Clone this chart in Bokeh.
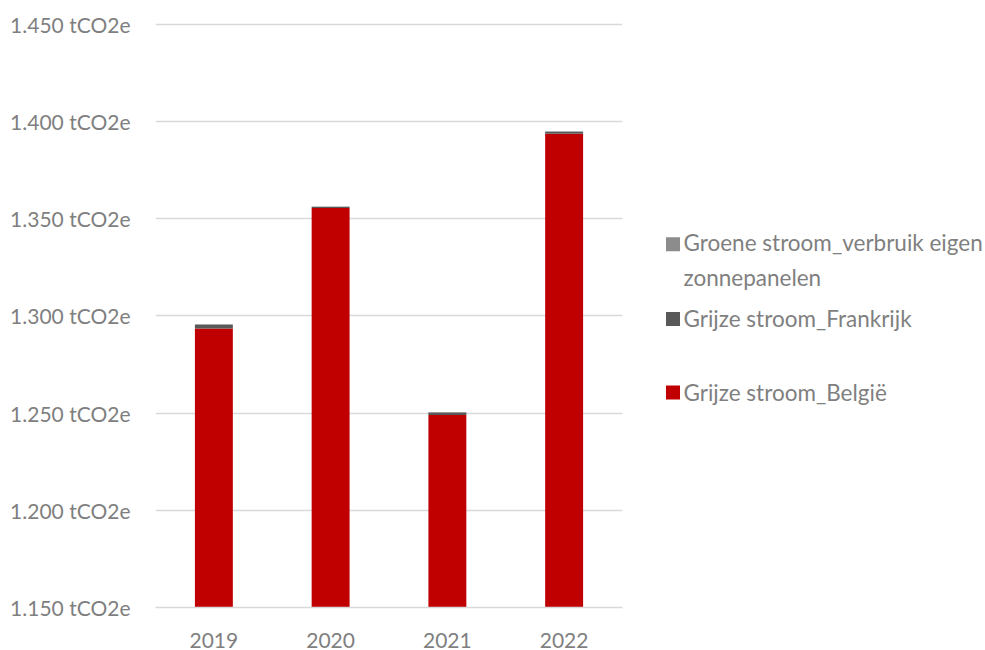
from bokeh.plotting import figure
from bokeh.models import FactorRange, Range1d, FixedTicker, ColumnDataSource
from bokeh.layouts import row
from bokeh.core.properties import value
from bokeh.embed import file_html
from bokeh.resources import INLINE

years = ["2019", "2020", "2021", "2022"]
belgie = [1293.5, 1355.5, 1249.0, 1393.8]
frankrijk = [1.8, 0.6, 1.3, 1.0]
groene = [0.4, 0.2, 0.3, 0.3]
series = ["Grijze stroom_België", "Grijze stroom_Frankrijk", "Groene stroom_verbruik eigen\nzonnepanelen"]
colors = ["#c00000", "#595959", "#8c8c8c"]
tick_values = [1150, 1200, 1250, 1300, 1350, 1400, 1450]
tick_labels = ["1.150 tCO2e", "1.200 tCO2e", "1.250 tCO2e", "1.300 tCO2e", "1.350 tCO2e", "1.400 tCO2e", "1.450 tCO2e"]

FONT = "Lato"
GREY = "#7f7f7f"

src = ColumnDataSource(dict(year=years, belgie=belgie, frankrijk=frankrijk, groene=groene))

p = figure(x_range=FactorRange(*years, range_padding=0), y_range=Range1d(1150, 1451),
           width=630, height=650, output_backend="svg", toolbar_location=None,
           min_border_left=155, min_border_right=8, min_border_top=22, min_border_bottom=40)
p.vbar_stack(["belgie", "frankrijk", "groene"], x="year", width=0.325, source=src,
             color=colors, line_color=None)

p.outline_line_color = None
p.background_fill_color = "white"
p.border_fill_color = "white"
p.xgrid.grid_line_color = None
p.ygrid.grid_line_color = "#d9d9d9"
p.ygrid.grid_line_width = 1.3
p.yaxis.ticker = FixedTicker(ticks=tick_values)
p.yaxis.major_label_overrides = {v: l for v, l in zip(tick_values, tick_labels)}
p.yaxis.axis_line_color = None
p.yaxis.major_tick_line_color = None
p.yaxis.minor_tick_line_color = None
p.yaxis.major_label_text_font = FONT
p.yaxis.major_label_text_font_size = "21px"
p.yaxis.major_label_text_color = GREY
p.yaxis.major_label_standoff = 19
p.xaxis.axis_line_color = "#d9d9d9"
p.xaxis.axis_line_width = 1.3
p.xaxis.major_tick_line_color = None
p.xaxis.minor_tick_line_color = None
p.xaxis.major_label_text_font = FONT
p.xaxis.major_label_text_font_size = "21px"
p.xaxis.major_label_text_color = GREY
p.xaxis.major_label_standoff = 19

# legend panel: its frame is aligned with the chart frame (pixels 22..610),
# so the y range is set to make data units equal page pixels
leg = figure(x_range=Range1d(0, 355), y_range=Range1d(610, 22), width=355, height=650,
             output_backend="svg", toolbar_location=None, min_border=0,
             x_axis_location=None, y_axis_location=None, title=None)
leg.grid.visible = False
leg.outline_line_color = None
order = [2, 1, 0]
sq_y = [245, 320, 394]
txt_y = [260.5, 320, 394]
leg_src = ColumnDataSource(dict(
    sx=[42.5] * 3, sy=sq_y, tx=[53] * 3, ty=txt_y,
    label=[series[i] for i in order], color=[colors[i] for i in order]))
leg.scatter("sx", "sy", marker="square", size=14, color="color", line_color=None, source=leg_src)
leg.text("tx", "ty", text="label", source=leg_src, text_font=value(FONT), text_font_size="22.5px",
         text_color=GREY, text_baseline="middle", text_line_height=1.3)

layout = row(p, leg)
open("out.html", "w").write(file_html(layout, INLINE))
